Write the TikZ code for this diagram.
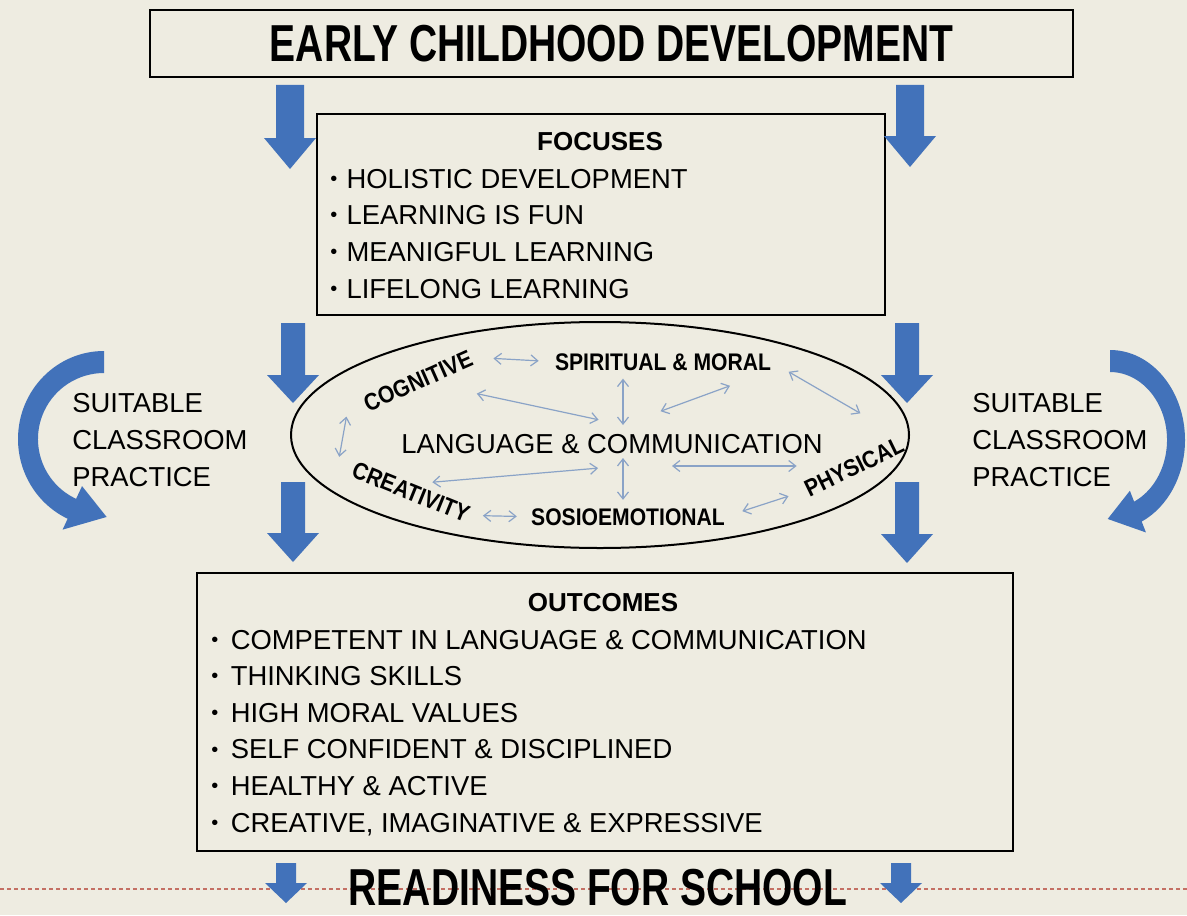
\documentclass[tikz,border=0pt]{standalone}
\usepackage{fontspec}
\setmainfont{Liberation Sans}
\newfontfamily\narrowsans{Liberation Sans}[FakeStretch=0.75]
\newfontfamily\labelsans{Liberation Sans}[FakeStretch=0.88]
\usetikzlibrary{arrows.meta,calc,shapes.geometric}
\definecolor{slidebg}{HTML}{EEECE1}
\definecolor{arrowblue}{RGB}{66,114,186}
\definecolor{linkblue}{RGB}{138,163,199}
\definecolor{dotred}{RGB}{196,112,100}
\newcommand{\lstxt}{\fontsize{13.7pt}{18.4pt}\selectfont}
\newcommand{\hdtxt}{\bfseries\fontsize{13pt}{15pt}\selectfont}
\newcommand{\bigtxt}{\narrowsans\bfseries\fontsize{26pt}{28pt}\selectfont}
\newcommand{\lbtxt}{\labelsans\bfseries\fontsize{12pt}{14pt}\selectfont}
\newcommand{\bul}[1][4.6pt]{\raisebox{1.4pt}{\fontsize{10pt}{10pt}\selectfont\textbullet}\hspace{#1}}
\tikzset{
  pics/blockarrow/.style n args={4}{code={
    \fill[arrowblue] (-#1,0) -- (#1,0) -- (#1,{#3-#4}) -- (#2,{#3-#4})
      -- (0,-#4) -- (-#2,{#3-#4}) -- (-#1,{#3-#4}) -- cycle;}}}

\begin{document}
\begin{tikzpicture}[x=0.5pt, y=0.5pt,
  box/.style={draw=black, line width=1pt, inner sep=0pt},
  ring/.style={ellipse, draw=black, line width=1pt, inner sep=0pt},
  txt/.style={inner sep=0pt, font=\lstxt},
  item/.style={inner sep=0pt, anchor=base west, font=\lstxt},
  lab/.style={inner sep=0pt, font=\lbtxt},
  link/.style={<->, draw=linkblue, line width=0.6pt},
  >={Straight Barb[length=3.5pt, width=5.5pt]},
  dotline/.style={draw=dotred, line width=0.8pt, dash pattern=on 2pt off 1.5pt}]
  % fondo
  \useasboundingbox (0,0) rectangle (1187,-915);
  \fill[slidebg] (0,0) rectangle (1187,-915);
  \draw[dotline] (0,-889) -- (1187,-889);
  % cajas
  \node[box, minimum width=461.5pt, minimum height=33.5pt, font=\bigtxt] (ecd) at (611.5,-43.5) {EARLY CHILDHOOD DEVELOPMENT};
  \node[box, minimum width=284pt, minimum height=100.5pt] (focus) at (601,-214.5) {};
  \node[ring, minimum width=309pt, minimum height=113pt] (ell) at (600,-435) {};
  \node[box, minimum width=408pt, minimum height=139pt] (out) at (605,-712) {};
  % focuses
  \node[inner sep=0pt, anchor=base, font=\hdtxt] (fh) at (600,-150) {FOCUSES};
  \node[item] (f1) at (330,-188) {\bul HOLISTIC DEVELOPMENT};
  \node[item] (f2) at (330,-224.7) {\bul LEARNING IS FUN};
  \node[item] (f3) at (330,-261.4) {\bul MEANIGFUL LEARNING};
  \node[item] (f4) at (330,-298.1) {\bul LIFELONG LEARNING};
  % elipse
  \node[lab, rotate=24] (cog) at (418,-381) {COGNITIVE};
  \node[lab, anchor=base] (spm) at (663,-370) {SPIRITUAL \& MORAL};
  \node[txt, anchor=base] (lang) at (612,-453) {LANGUAGE \& COMMUNICATION};
  \node[lab, rotate=-22] (cre) at (411,-492) {CREATIVITY};
  \node[lab, anchor=base] (sos) at (628,-525) {SOSIOEMOTIONAL};
  \node[lab, rotate=26] (phy) at (854,-467) {PHYSICAL};
  \coordinate (hubN) at (623,-425);
  \coordinate (hubS) at (623,-466);
  \draw[link, shorten <=11pt, shorten >=8pt] (cog.east) -- (spm.west);
  \draw[link, shorten <=22.5pt, shorten >=12.5pt] (cog) -- (hubN);
  \draw[link, shorten >=4pt] (hubN) -- (hubN |- spm.south);
  \draw[link, shorten <=20pt, shorten >=22pt] (hubN) -- (spm.south east);
  \draw[link, shorten <=10pt, shorten >=22pt] (spm.east) -- (phy.north east);
  \draw[link, shorten <=6pt, shorten >=6pt] ([xshift=-8pt]cog.west) -- ([xshift=-8pt]cre.west);
  \draw[link, shorten <=12.5pt, shorten >=9pt] (hubS) -- (cre.north);
  \draw[link, shorten <=-4pt, shorten >=4pt] (hubS) -- (hubS |- sos.north);
  \draw[link, shorten <=24.5pt, shorten >=4.5pt] (hubS) -- (hubS -| phy.west);
  \draw[link, shorten <=7pt, shorten >=7pt] (cre.east) -- (sos.west);
  \draw[link, shorten <=9pt, shorten >=9pt] (sos.east) -- (phy.west);
  % outcomes
  \node[inner sep=0pt, anchor=base, font=\hdtxt] (oh) at (603,-611) {OUTCOMES};
  \node[item] (o1) at (211,-649) {\bul[6.2pt]COMPETENT IN LANGUAGE \& COMMUNICATION};
  \node[item] (o2) at (211,-685.6) {\bul[6.2pt]THINKING SKILLS};
  \node[item] (o3) at (211,-722.2) {\bul[6.2pt]HIGH MORAL VALUES};
  \node[item] (o4) at (211,-758.8) {\bul[6.2pt]SELF CONFIDENT \& DISCIPLINED};
  \node[item] (o5) at (211,-795.4) {\bul[6.2pt]HEALTHY \& ACTIVE};
  \node[item] (o6) at (211,-832) {\bul[6.2pt]CREATIVE, IMAGINATIVE \& EXPRESSIVE};
  % practica a los lados
  \node[txt, anchor=north west, align=left] (scl) at (72,-393) {SUITABLE\\CLASSROOM\\PRACTICE};
  \node[txt, anchor=north west, align=left] (scr) at (972,-393) {SUITABLE\\CLASSROOM\\PRACTICE};
  \fill[arrowblue, shift={(104,-439)}] (90:86 and 88)
    arc[start angle=90, end angle=245, x radius=86, y radius=88]
    -- (245:98 and 100) -- (272:76 and 78) -- (245:52 and 52) -- (245:66 and 66)
    arc[start angle=245, end angle=90, radius=66] -- cycle;
  \fill[arrowblue, shift={(1110,-440)}] (90:75 and 90)
    arc[start angle=90, end angle=-65, x radius=75, y radius=90]
    -- (-65:85 and 102) -- (-92:66 and 79) -- (-65:47 and 56) -- (-65:57 and 68)
    arc[start angle=-65, end angle=90, x radius=57, y radius=68] -- cycle;
  % flechas de bloque
  \pic at (290,-85) {blockarrow={14}{26}{31}{84}};
  \pic at (910,-85) {blockarrow={14}{26}{31}{82}};
  \pic at (293,-323) {blockarrow={12}{26}{28}{80}};
  \pic at (907,-323) {blockarrow={12}{26}{28}{80}};
  \pic at (293,-482) {blockarrow={12}{26}{29}{80}};
  \pic at (907,-482) {blockarrow={12}{26}{29}{81}};
  \pic at (286,-863) {blockarrow={10}{21}{20}{40}};
  \pic at (901,-863) {blockarrow={10}{21}{20}{40}};
  % cierre
  \node[inner sep=0pt, font=\bigtxt] (ready) at (598,-888) {READINESS FOR SCHOOL};
\end{tikzpicture}
\end{document}
